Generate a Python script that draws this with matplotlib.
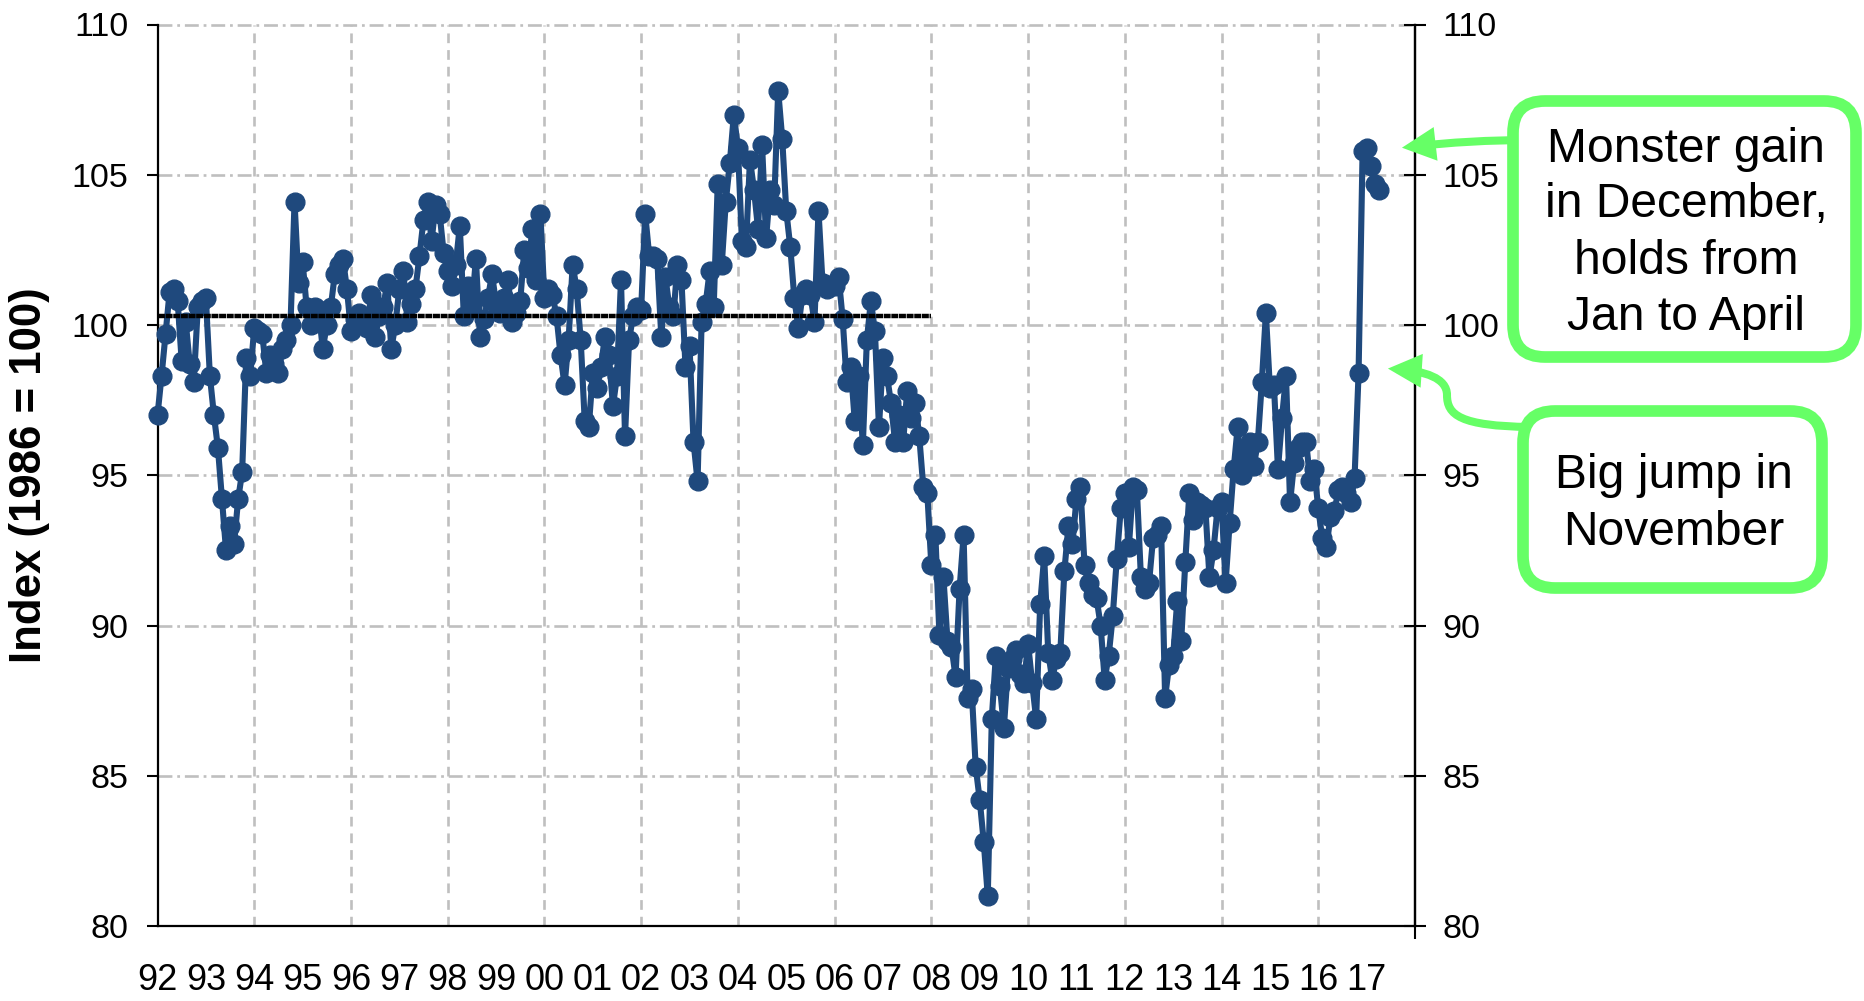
import numpy as np
import matplotlib.pyplot as plt
from matplotlib.patches import FancyBboxPatch, FancyArrowPatch, ArrowStyle
from matplotlib.path import Path
from matplotlib.transforms import IdentityTransform

plt.rcParams['font.family'] = ['Liberation Sans', 'DejaVu Sans']
plt.rcParams['lines.scale_dashes'] = False

# monthly index, Jan 1992 .. Apr 2017 (1986 = 100)
idx_1992_1995 = [
    97.0, 98.3, 99.7, 101.1, 101.2, 100.8, 98.8, 100.1, 98.7, 98.1, 100.6, 100.8,
    100.9, 98.3, 97.0, 95.9, 94.2, 92.5, 93.3, 92.7, 94.2, 95.1, 98.9, 98.3,
    99.9, 99.8, 99.7, 98.4, 99.0, 98.7, 98.4, 99.2, 99.5, 100.0, 104.1, 101.4,
    102.1, 100.6, 100.0, 100.6, 100.5, 99.2, 100.0, 100.6, 101.7, 102.0, 102.2, 101.2,
]
idx_1996_1999 = [
    99.8, 100.2, 100.4, 100.2, 99.9, 101.0, 99.6, 100.3, 100.6, 101.4, 99.2, 100.0,
    101.2, 101.8, 100.1, 100.7, 101.2, 102.3, 103.5, 104.1, 102.8, 104.0, 103.7, 102.4,
    101.8, 101.3, 102.0, 103.3, 100.3, 101.3, 100.6, 102.2, 99.6, 100.2, 100.9, 101.7,
    100.7, 100.4, 100.9, 101.5, 100.1, 100.4, 100.8, 102.5, 101.9, 103.2, 101.5, 103.7,
]
idx_2000_2003 = [
    100.9, 101.2, 101.0, 100.3, 99.0, 98.0, 99.5, 102.0, 101.2, 99.5, 96.8, 96.6,
    98.4, 97.9, 98.6, 99.6, 99.0, 97.3, 98.3, 101.5, 96.3, 99.5, 100.3, 100.6,
    100.5, 103.7, 102.3, 102.3, 102.2, 99.6, 101.6, 100.6, 100.3, 102.0, 101.5, 98.6,
    99.3, 96.1, 94.8, 100.1, 100.7, 101.8, 100.6, 104.7, 102.0, 104.1, 105.4, 107.0,
]
idx_2004_2007 = [
    105.9, 102.8, 102.6, 105.5, 104.5, 103.2, 106.0, 102.9, 104.5, 104.0, 107.8, 106.2,
    103.8, 102.6, 100.9, 99.9, 101.0, 101.2, 101.0, 100.1, 103.8, 101.4, 101.2, 101.3,
    101.3, 101.6, 100.2, 98.1, 98.6, 96.8, 98.3, 96.0, 99.5, 100.8, 99.8, 96.6,
    98.9, 98.3, 97.4, 96.1, 97.0, 96.1, 97.8, 96.9, 97.4, 96.3, 94.6, 94.4,
]
idx_2008_2011 = [
    92.0, 93.0, 89.7, 91.6, 89.5, 89.3, 88.3, 91.2, 93.0, 87.6, 87.9, 85.3,
    84.2, 82.8, 81.0, 86.9, 89.0, 88.0, 86.6, 88.6, 88.9, 89.2, 88.4, 88.1,
    89.4, 88.1, 86.9, 90.7, 92.3, 89.1, 88.2, 88.9, 89.1, 91.8, 93.3, 92.7,
    94.2, 94.6, 92.0, 91.4, 91.0, 90.9, 90.0, 88.2, 89.0, 90.3, 92.2, 93.9,
]
idx_2012_2017 = [
    94.4, 92.6, 94.6, 94.5, 91.6, 91.2, 91.4, 92.9, 93.0, 93.3, 87.6, 88.7,
    89.0, 90.8, 89.5, 92.1, 94.4, 93.5, 94.1, 94.0, 93.9, 91.6, 92.5, 93.9,
    94.1, 91.4, 93.4, 95.2, 96.6, 95.0, 95.7, 96.1, 95.3, 96.1, 98.1, 100.4,
    97.9, 98.0, 95.2, 96.9, 98.3, 94.1, 95.4, 95.9, 96.1, 96.1, 94.8, 95.2,
    93.9, 92.9, 92.6, 93.6, 93.8, 94.5, 94.6, 94.4, 94.1, 94.9, 98.4, 105.8,
    105.9, 105.3, 104.7, 104.5,
]

first_year = 1992
avg_level = 100.3          # 1992-2007 average
avg_until = 2008
year_labels = ['%02d' % (y % 100) for y in range(1992, 2018)]

index = np.array(idx_1992_1995 + idx_1996_1999 + idx_2000_2003 +
                 idx_2004_2007 + idx_2008_2011 + idx_2012_2017)
t = first_year + np.arange(len(index)) / 12.0

W, H = 1864, 1001
fig = plt.figure(figsize=(W / 100, H / 100), dpi=100)
ax = fig.add_axes([157.5 / W, 1 - 926 / H, (1415 - 157.5) / W, (926 - 24.5) / H])

navy = '#1F497D'
green = '#66FF66'
grey = '#BFBFBF'

ax.set_xlim(1992, 2018)
ax.set_ylim(80, 110)

for y in range(85, 111, 5):
    ax.axhline(y, color=grey, lw=1.9, ls=(0, (10, 3.5, 2, 3.5)), zorder=0, clip_on=False)
for x in range(1994, 2017, 2):
    ax.axvline(x, color=grey, lw=1.9, ls=(0, (7, 5)), zorder=0)

ax.plot(t, index, color=navy, lw=4.4, marker='o', ms=13.5, mec=navy, mfc=navy,
        zorder=3, clip_on=False)
ax.plot([first_year, avg_until], [avg_level, avg_level], color='black', lw=3.2,
        ls=(0, (5, 0.5)), zorder=4)

for side in ['left', 'right', 'bottom']:
    ax.spines[side].set_linewidth(1.6)
ax.spines['top'].set_visible(False)

ax.set_yticks(range(80, 111, 5))
ax.tick_params(axis='y', direction='out', length=7.7, width=1.5, pad=13, labelsize=24.5)
ax.set_xticks(range(1992, 2018))
ax.set_xticklabels(year_labels)
ax.set_xticks(range(1992, 2019, 2), minor=True)
ax.tick_params(axis='x', which='major', length=0, pad=27, labelsize=26)
ax.tick_params(axis='x', which='minor', direction='out', length=9.5, width=1.5)

ax2 = ax.twinx()
ax2.set_ylim(80, 110)
ax2.set_yticks(range(80, 111, 5))
ax2.tick_params(axis='y', direction='inout', length=16, width=1.5, pad=12, labelsize=24.5)
for side in ['left', 'top', 'bottom']:
    ax2.spines[side].set_visible(False)
ax2.spines['right'].set_linewidth(1.6)

fig.text(30 / W, 1 - 475 / H, 'Index (1986 = 100)', rotation=90, ha='center',
         va='center', fontsize=31.5, fontweight='bold')


def px(x, y):
    return (x, H - y)


# callout arrows, tips placed off the last points
tip_top = ax.transData.transform((2017.73, index[-4]))
tip_low = ax.transData.transform((2017.44, index[-6] + 0.15))
head = ArrowStyle('-|>', head_length=1.5, head_width=0.75)

arrow_top = Path([px(1530, 140), px(1470, 140), tuple(tip_top)],
                 [Path.MOVETO, Path.CURVE3, Path.CURVE3])
arrow_low = Path([px(1530, 427), px(1460, 426), px(1447, 415), px(1447, 395),
                  px(1447, 378), px(1425, 371), tuple(tip_low)],
                 [Path.MOVETO, Path.CURVE4, Path.CURVE4, Path.CURVE4,
                  Path.CURVE4, Path.CURVE4, Path.CURVE4])
for p in [arrow_top, arrow_low]:
    fig.add_artist(FancyArrowPatch(path=p, arrowstyle=head, mutation_scale=10,
                                   lw=5.8, color=green, transform=IdentityTransform(),
                                   joinstyle='miter', capstyle='butt'))

# callout boxes
boxes = [(1513, 101, 1856, 357), (1523, 411, 1822, 588)]
for x0, y0, x1, y1 in boxes:
    fig.add_artist(FancyBboxPatch(px(x0, y1), x1 - x0, y1 - y0,
                                  boxstyle='round,pad=0,rounding_size=32',
                                  lw=8.4, ec=green, fc='white',
                                  transform=IdentityTransform()))

top_lines = ['Monster gain', 'in December,', 'holds from', 'Jan to April']
for line, base in zip(top_lines, [162, 217, 274, 330]):
    fig.text(1686 / W, 1 - base / H, line, ha='center', va='baseline', fontsize=34.6)
low_lines = ['Big jump in', 'November']
for line, base in zip(low_lines, [488, 545]):
    fig.text(1674 / W, 1 - base / H, line, ha='center', va='baseline', fontsize=34.6)

fig.savefig('out.png', dpi=100)
